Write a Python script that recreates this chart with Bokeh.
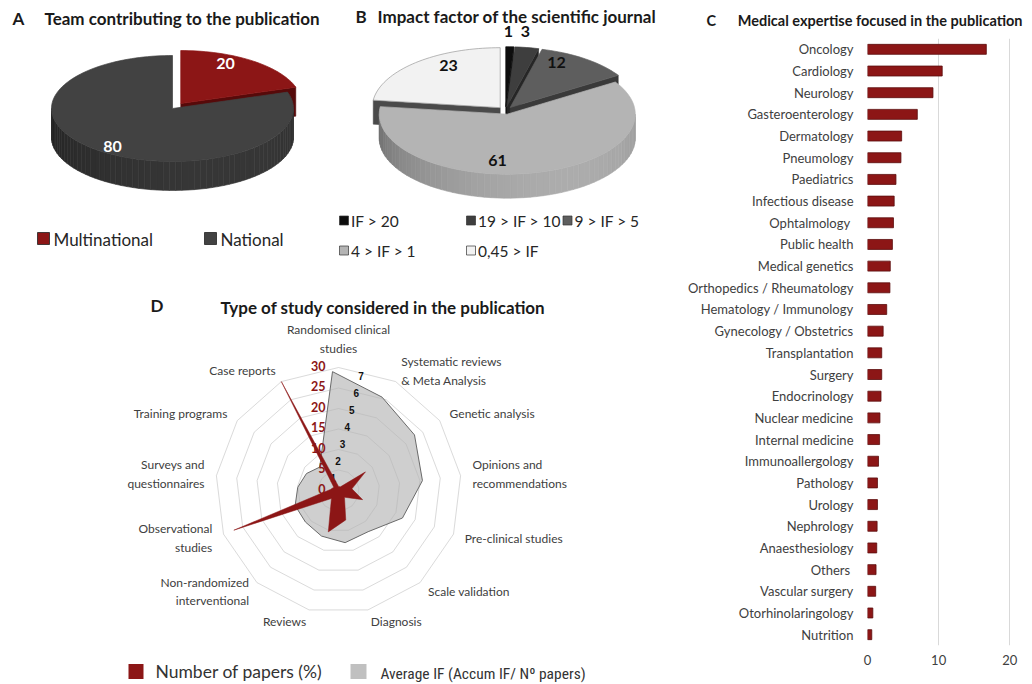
import numpy as np
from bokeh.plotting import figure
from bokeh.models import Range1d, FactorRange, FixedTicker
from bokeh.layouts import row
from bokeh.embed import file_html
from bokeh.resources import INLINE
from bokeh.core.properties import value

# ---------------- data ----------------
team_labels = ["Multinational", "National"]
team_values = [20, 80]

if_labels = ["IF > 20", "19 > IF > 10", "9 > IF > 5", "4 > IF > 1", "0,45 > IF"]
if_values = [1, 3, 12, 61, 23]

specialties = ["Oncology", "Cardiology", "Neurology", "Gasteroenterology", "Dermatology",
               "Pneumology", "Paediatrics", "Infectious disease", "Ophtalmology ", "Public health",
               "Medical genetics", "Orthopedics / Rheumatology", "Hematology / Immunology",
               "Gynecology / Obstetrics", "Transplantation", "Surgery", "Endocrinology",
               "Nuclear medicine", "Internal medicine", "Immunoallergology", "Pathology",
               "Urology", "Nephrology", "Anaesthesiology", "Others ", "Vascular surgery",
               "Otorhinolaringology", "Nutrition"]
specialty_values = [16.7, 10.5, 9.2, 7.0, 4.8, 4.7, 4.0, 3.75, 3.65, 3.5, 3.2, 3.15, 2.7, 2.2,
                    2.0, 2.0, 1.9, 1.75, 1.7, 1.55, 1.4, 1.4, 1.35, 1.3, 1.2, 1.15, 0.75, 0.6]
bar_ticks = [0, 10, 20]

study_types = ["Randomised clinical\nstudies", "Systematic reviews\n& Meta Analysis",
               "Genetic analysis", "Opinions and\nrecommendations", "Pre-clinical studies",
               "Scale validation", "Diagnosis", "Reviews", "Non-randomized\ninterventional",
               "Observational\nstudies", "Surveys and\nquestionnaires", "Training programs",
               "Case reports"]
papers_pct = [1, 1, 8, 3.3, 6.3, 2.2, 7.4, 10.4, 2.6, 27.3, 2, 1.4, 30]
avg_if = [7.05, 6.27, 5.86, 5.33, 4.4, 3.16, 3.1, 2.7, 2.4, 2.35, 2.06, 1.86, 1.62]
red_ticks = [0, 5, 10, 15, 20, 25, 30]
gray_ticks = [1, 2, 3, 4, 5, 6, 7]

# ---------------- helpers ----------------
FONT = "Lato"
TITLE_C = "#1a1a1a"
FR_TOP, FR_BOT = 38, 645          # bar-chart frame top / bottom (page px)
PAGE_W, PAGE_H = 1032, 684
LEFT_W = 668


def txt(p, x, y, s, size, color="#262626", bold=False, align="left", baseline="middle", font=FONT):
    p.text(x=[x], y=[y], text=[s], text_font=value(font), text_font_size=value(f"{size}px"),
           text_font_style="bold" if bold else "normal", text_color=color,
           text_align=align, text_baseline=baseline)


def shade(c, f):
    r, g, b = int(c[1:3], 16), int(c[3:5], 16), int(c[5:7], 16)
    return "#%02x%02x%02x" % tuple(max(0, min(255, int(v * f))) for v in (r, g, b))


def pie3d(p, vals, tops, sides, walls, cx, cy, rx, ry, depth, explode, outlines):
    total = float(sum(vals))
    ends = np.cumsum(vals) / total * 360.0
    starts = np.concatenate([[0.0], ends[:-1]])
    mids = (starts + ends) / 2
    order = np.argsort(-np.cos(np.radians(mids)))
    for i in order:
        a1, a2 = starts[i], ends[i]
        e = explode[i]
        m = np.radians(mids[i])
        px = cx + e * np.sin(m)
        py = cy - e * np.cos(m) * ry / rx

        def rim(t):
            t = np.radians(t)
            return px + rx * np.sin(t), py - ry * np.cos(t)

        for t, vis in ((a1, np.sin(np.radians(a1)) < -1e-6), (a2, np.sin(np.radians(a2)) > 1e-6)):
            if vis:
                wx, wy = rim(t)
                p.patch([px, wx, wx, px], [py, wy, wy + depth, py + depth],
                        fill_color=walls[i], line_color=walls[i], line_width=0.5)
        lo, hi = max(a1, 90.0), min(a2, 270.0)
        if hi > lo:
            nseg = int((hi - lo) / 3) + 2
            ts = np.linspace(lo, hi, nseg)
            xs, ys, cols = [], [], []
            for j in range(nseg - 1):
                x0, y0 = rim(ts[j])
                x1, y1 = rim(ts[j + 1])
                frac = ((ts[j] + ts[j + 1]) / 2 - 90.0) / 180.0
                f = 0.8 + 0.45 * np.sin(np.pi * (0.25 + 0.75 * frac))
                cols.append(shade(sides[i], f))
                xs.append([x0, x1, x1, x0])
                ys.append([y0, y1, y1 + depth, y0 + depth])
            p.patches(xs, ys, fill_color=cols, line_color=cols, line_width=0.6)
        ts = np.linspace(a1, a2, max(3, int((a2 - a1) / 2) + 2))
        tx, ty = rim(ts)
        p.patch(np.concatenate([[px], tx]), np.concatenate([[py], ty]),
                fill_color=tops[i], line_color=outlines[i] or tops[i], line_width=0.7)


def no_align(p):
    try:
        p.frame_align = False
    except Exception:
        pass


# ---------------- left figure: A, B, D (data units = page pixels) ----------------
pl = figure(width=LEFT_W, height=PAGE_H, x_range=Range1d(0, LEFT_W), y_range=Range1d(PAGE_H, 0),
            output_backend="svg", toolbar_location=None, x_axis_location=None,
            y_axis_location=None, min_border=0, outline_line_color=None, title=None)
pl.grid.visible = False
no_align(pl)

# ---- A ----
txt(pl, 12, 18, "A", 17, TITLE_C, bold=True)
txt(pl, 44, 18, "Team contributing to the publication", 17, TITLE_C, bold=True)
team_cols = ["#8c1616", "#424242"]
pie3d(pl, team_values, team_cols, ["#5e0c0c", "#2c2c2c"], ["#560a0a", "#222222"],
      172, 108, 121, 53, 29, [14, 0], [None, None])
txt(pl, 225, 63, str(team_values[0]), 16, "white", bold=True, align="center")
txt(pl, 112, 146, str(team_values[1]), 16, "white", bold=True, align="center")
for k, (name, xx) in enumerate(zip(team_labels, [43, 210])):
    pl.rect(x=[xx], y=[238], width=12, height=12, fill_color=team_cols[k], line_color="#222222",
            line_width=0.8)
    txt(pl, xx + 10, 238.5, name, 17, "#262626")

# ---- B ----
txt(pl, 355, 16, "B", 17, TITLE_C, bold=True)
txt(pl, 377, 16, "Impact factor of the scientific journal", 17, TITLE_C, bold=True)
if_tops = ["#0d0d0d", "#3e3e3e", "#5e5e5e", "#b4b4b4", "#f2f2f2"]
if_sides = ["#050505", "#2a2a2a", "#404040", "#8a8a8a", "#b0b0b0"]
if_walls = ["#000000", "#262626", "#3a3a3a", "#6e6e6e", "#4a4a4a"]
pie3d(pl, if_values, if_tops, if_sides, if_walls, 505, 110, 128, 60, 24, [8, 8, 8, 8, 8],
      [None, None, None, None, "#9a9a9a"])
for v, (lx, ly) in zip(if_values, [(508, 31), (525, 31), (556, 62), (497, 160), (448, 65)]):
    txt(pl, lx, ly, str(v), 16, "#111111", bold=True, align="center")
leg_b = [(343.5, 220), (470.5, 220), (567, 220), (343.5, 250), (470.5, 250)]
for k, (name, (lx, ly)) in enumerate(zip(if_labels, leg_b)):
    pl.rect(x=[lx], y=[ly], width=9, height=9, fill_color=if_tops[k], line_color="#333333",
            line_width=0.7)
    txt(pl, lx + 7, ly + 0.5, name, 15.5, "#262626")

# ---- D: radar ----
txt(pl, 150, 305, "D", 17, TITLE_C, bold=True)
txt(pl, 220, 307, "Type of study considered in the publication", 17, TITLE_C, bold=True)

rcx, rcy, rs = 338.0, 490.0, 4.1   # red chart centre, px per %
gcx, gcy, gs = 332.0, 491.0, 17.0  # grey chart centre, px per IF unit
n = len(study_types)
ang = np.arange(n) * 2 * np.pi / n
angc = np.append(ang, ang[0])

gv = np.append(np.array(avg_if), avg_if[0])
gx = gcx + gv * gs * np.sin(angc)
gy = gcy - gv * gs * np.cos(angc)
pl.patch(gx, gy, fill_color="#cfcfcf", line_color=None)

for t in red_ticks[1:]:
    pl.line(rcx + t * rs * np.sin(angc), rcy - t * rs * np.cos(angc),
            line_color="#b5b5b5", line_alpha=0.5, line_width=1)

pl.line(gx, gy, line_color="#6a6a6a", line_width=1)

for k, name in enumerate(study_types):
    s, c = np.sin(ang[k]), np.cos(ang[k])
    ax, ay = rcx + 135 * s, rcy - 135 * c
    align = "left" if s > 0.2 else ("right" if s < -0.2 else "center")
    base = "bottom" if c > 0.99 else "middle"
    pl.text(x=[ax], y=[ay], text=[name], text_font=value(FONT), text_font_size=value("12px"),
            text_color="#404040", text_align=align, text_baseline=base, text_line_height=1.25)

for t in red_ticks:
    txt(pl, rcx - 13, rcy - t * rs - 2, str(t), 12.5, "#8c1616", bold=True, align="right")
for k in gray_ticks:
    txt(pl, gcx - 3.7 + 4.6 * k, gcy + 3 - gs * k, str(k), 10, "#111111", bold=True,
        align="center", font="Liberation Sans")

rv = np.append(np.array(papers_pct), papers_pct[0])
pl.patch(rcx + rv * rs * np.sin(angc), rcy - rv * rs * np.cos(angc),
         fill_color="#8c1616", line_color="#8c1616", line_width=0.5)

# legend D
pl.rect(x=[135.5], y=[671], width=15, height=15, fill_color="#8c1616", line_color=None)
txt(pl, 155, 671, "Number of papers (%)", 17.5, "#333333")
pl.rect(x=[358], y=[671], width=16, height=15, fill_color="#c0c0c0", line_color=None)
txt(pl, 380, 673, "Average IF (Accum IF/ Nº papers)", 15.5, "#333333",
    font="'Liberation Sans Narrow', 'Roboto Condensed', Roboto")

# ---------------- right figure: C ----------------
C_LEFT = 199          # border left of the bar frame
C_RIGHT = 10
PX_PER_UNIT = 7.115
frame_w = (PAGE_W - LEFT_W) - C_LEFT - C_RIGHT
pc = figure(width=PAGE_W - LEFT_W, height=PAGE_H, y_range=FactorRange(factors=specialties[::-1]),
            x_range=Range1d(0, frame_w / PX_PER_UNIT), output_backend="svg", toolbar_location=None,
            min_border_left=C_LEFT, min_border_right=C_RIGHT, min_border_top=FR_TOP,
            min_border_bottom=PAGE_H - FR_BOT, outline_line_color=None)
no_align(pc)
pc.hbar(y=specialties, left=0, right=specialty_values, height=0.46,
        fill_color="#8c1616", line_color="#5a0c0c", line_width=0.8)

pc.title.text = "C\u2003\u2003Medical expertise focused in the publication"
pc.title.align = "right"
pc.title.text_font = FONT
pc.title.text_font_size = "14.5px"
pc.title.text_font_style = "bold"
pc.title.text_color = TITLE_C
pc.title.standoff = 19

pc.xaxis.ticker = FixedTicker(ticks=bar_ticks)
pc.xaxis.axis_line_color = None
pc.xaxis.major_tick_line_color = None
pc.xaxis.minor_tick_line_color = None
pc.xaxis.major_tick_out = 0
pc.xaxis.major_label_text_font = FONT
pc.xaxis.major_label_text_font_size = "13px"
pc.xaxis.major_label_text_color = "#404040"
pc.xaxis.major_label_standoff = 9

pc.yaxis.axis_line_color = None
pc.yaxis.major_tick_line_color = None
pc.yaxis.minor_tick_line_color = None
pc.yaxis.major_tick_out = 0
pc.yaxis.major_label_text_font = FONT
pc.yaxis.major_label_text_font_size = "13px"
pc.yaxis.major_label_text_color = "#404040"
pc.yaxis.major_label_standoff = 14

pc.xgrid.grid_line_color = "#d9d9d9"
pc.ygrid.grid_line_color = None

layout = row(pl, pc)
open("out.html", "w").write(file_html(layout, INLINE))
